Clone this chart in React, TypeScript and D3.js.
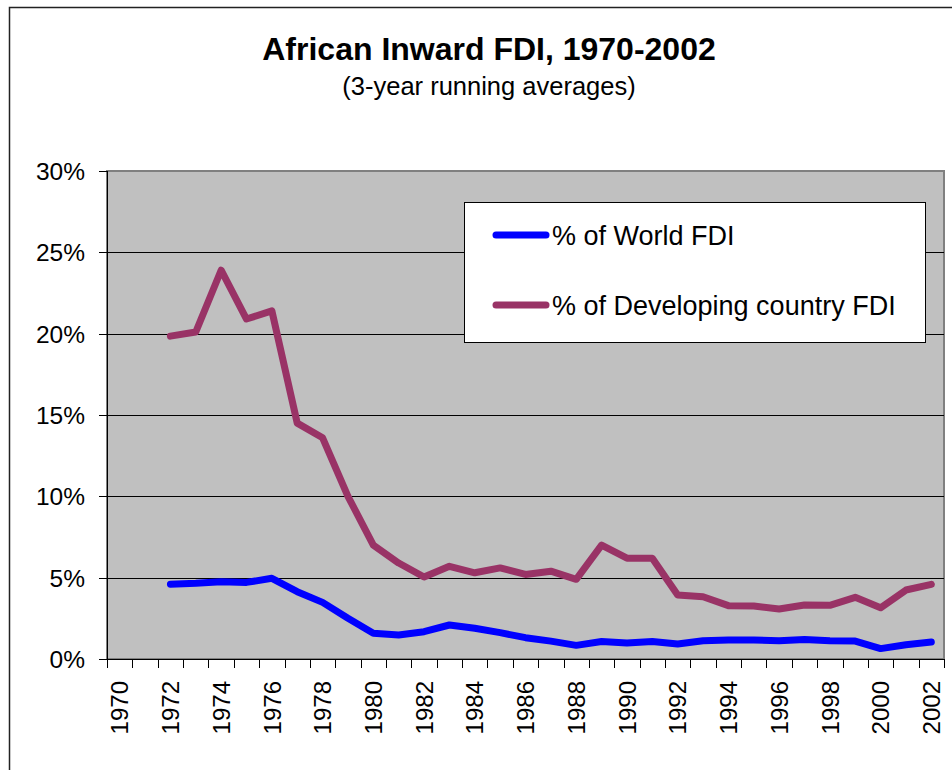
import React, { useEffect, useRef } from "react";
import * as d3 from "d3";

// years on the category axis
const years: number[] = d3.range(1970, 2003);

// 3-year running averages, in percent (null = no data)
const worldShare: (number | null)[] = [
  null, null, 4.6, 4.65, 4.75, 4.71, 4.96, 4.14, 3.48, 2.5, 1.58, 1.47, 1.68,
  2.09, 1.89, 1.62, 1.31, 1.1, 0.84, 1.08, 0.98, 1.08, 0.92, 1.12, 1.17, 1.17,
  1.12, 1.2, 1.12, 1.1, 0.64, 0.88, 1.04,
];
const developingShare: (number | null)[] = [
  null, null, 19.85, 20.1, 23.9, 20.9, 21.4, 14.5, 13.6, 10.0, 7.0, 5.9, 5.04,
  5.7, 5.3, 5.6, 5.2, 5.4, 4.9, 7.0, 6.2, 6.2, 3.93, 3.83, 3.28, 3.26, 3.07,
  3.32, 3.3, 3.79, 3.15, 4.24, 4.59,
];

const yTicks: number[] = [0, 5, 10, 15, 20, 25, 30];
const seriesNames: string[] = ["% of World FDI", "% of Developing country FDI"];
const seriesColors: string[] = ["#0000ff", "#993366"];

const FONT = "'Liberation Sans', Arial, sans-serif";

export default function App() {
  const ref = useRef<SVGSVGElement | null>(null);

  useEffect(() => {
    const svg = d3.select(ref.current);
    svg.selectAll("*").remove();

    const W = 952;
    const H = 770;
    const plot = { left: 107, right: 944, top: 171, bottom: 659 };

    // chart area + outer border (cropped at right/bottom like the original)
    svg.append("rect").attr("width", W).attr("height", H).attr("fill", "#fff");
    svg.append("rect")
      .attr("x", 9.5).attr("y", 7.5)
      .attr("width", W + 20).attr("height", H + 20)
      .attr("fill", "none").attr("stroke", "#222").attr("stroke-width", 1.5);

    // titles
    svg.append("text")
      .attr("x", 489).attr("y", 60)
      .attr("text-anchor", "middle")
      .style("font-family", FONT).style("font-size", "32px").style("font-weight", "bold")
      .text("African Inward FDI, 1970-2002");
    svg.append("text")
      .attr("x", 489).attr("y", 95)
      .attr("text-anchor", "middle")
      .style("font-family", FONT).style("font-size", "25.5px")
      .text("(3-year running averages)");

    const x = d3.scaleBand<number>().domain(years).range([plot.left, plot.right]);
    const y = d3.scaleLinear().domain([0, 30]).range([plot.bottom, plot.top]);

    // plot background
    svg.append("rect")
      .attr("x", plot.left).attr("y", plot.top)
      .attr("width", plot.right - plot.left).attr("height", plot.bottom - plot.top)
      .attr("fill", "#c0c0c0").attr("stroke", "#808080").attr("stroke-width", 2);

    // horizontal gridlines
    svg.append("g")
      .selectAll("line")
      .data(yTicks.filter((t) => t > 0 && t < 30))
      .join("line")
      .attr("x1", plot.left).attr("x2", plot.right)
      .attr("y1", (d) => Math.round(y(d)) + 0.5).attr("y2", (d) => Math.round(y(d)) + 0.5)
      .attr("stroke", "#000").attr("stroke-width", 1);

    // y axis
    const yAxis = svg.append("g");
    yAxis.append("line")
      .attr("x1", plot.left + 0.5).attr("x2", plot.left + 0.5)
      .attr("y1", plot.top).attr("y2", plot.bottom + 8)
      .attr("stroke", "#000");
    yTicks.forEach((t) => {
      const yy = Math.round(y(t)) + 0.5;
      yAxis.append("line")
        .attr("x1", plot.left - 8).attr("x2", plot.left)
        .attr("y1", yy).attr("y2", yy)
        .attr("stroke", "#000");
      yAxis.append("text")
        .attr("x", plot.left - 22).attr("y", yy)
        .attr("dy", "0.36em")
        .attr("text-anchor", "end")
        .style("font-family", FONT).style("font-size", "24.5px")
        .text(`${t}%`);
    });

    // x axis with ticks between categories
    const xAxis = svg.append("g");
    xAxis.append("line")
      .attr("x1", plot.left).attr("x2", plot.right)
      .attr("y1", plot.bottom + 0.5).attr("y2", plot.bottom + 0.5)
      .attr("stroke", "#000");
    const bounds = years.map((yr) => x(yr) as number).concat([plot.right]);
    bounds.forEach((bx) => {
      xAxis.append("line")
        .attr("x1", Math.round(bx) + 0.5).attr("x2", Math.round(bx) + 0.5)
        .attr("y1", plot.bottom).attr("y2", plot.bottom + 9)
        .attr("stroke", "#000");
    });
    years.filter((yr) => yr % 2 === 0).forEach((yr) => {
      const cx = (x(yr) as number) + x.bandwidth() / 2;
      xAxis.append("text")
        .attr("transform", `translate(${cx},${plot.bottom + 22}) rotate(-90)`)
        .attr("dy", "0.36em")
        .attr("text-anchor", "end")
        .style("font-family", FONT).style("font-size", "24px")
        .text(String(yr));
    });

    // series lines
    const line = d3.line<number | null>()
      .defined((d) => d != null)
      .x((_, i) => (x(years[i]) as number) + x.bandwidth() / 2)
      .y((d) => y(d as number));

    [worldShare, developingShare].forEach((vals, i) => {
      svg.append("path")
        .datum(vals)
        .attr("d", line)
        .attr("fill", "none")
        .attr("stroke", seriesColors[i])
        .attr("stroke-width", 7)
        .attr("stroke-linejoin", "round")
        .attr("stroke-linecap", "round");
    });

    // legend
    const lg = svg.append("g");
    lg.append("rect")
      .attr("x", 464.5).attr("y", 202.5)
      .attr("width", 461).attr("height", 140)
      .attr("fill", "#fff").attr("stroke", "#000");
    seriesNames.forEach((name, i) => {
      const ly = 235 + i * 70;
      lg.append("line")
        .attr("x1", 496).attr("x2", 546)
        .attr("y1", ly).attr("y2", ly)
        .attr("stroke", seriesColors[i]).attr("stroke-width", 7)
        .attr("stroke-linecap", "round");
      lg.append("text")
        .attr("x", 552).attr("y", ly)
        .attr("dy", "0.36em")
        .style("font-family", FONT).style("font-size", "27px")
        .text(name);
    });
  }, []);

  return (
    <div style={{ position: "absolute", left: 0, top: 0 }}>
      <svg ref={ref} width={952} height={770} style={{ display: "block" }} />
    </div>
  );
}
